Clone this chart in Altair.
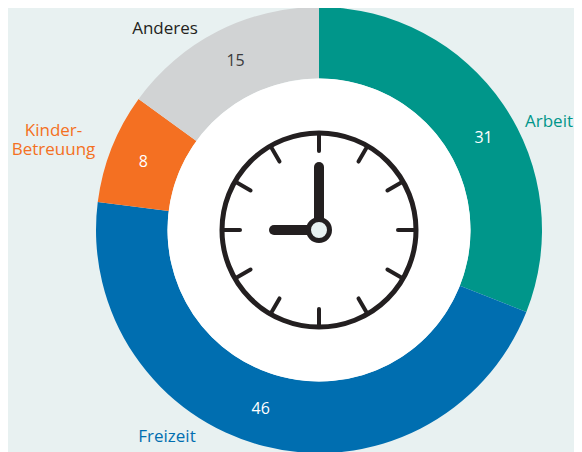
import math
import altair as alt
import pandas as pd

# --- values ---
categories = ["Arbeit", "Freizeit", "Kinder-Betreuung", "Anderes"]
values = [31, 46, 8, 15]
colors = ["#00968a", "#006eb0", "#f47022", "#d1d3d4"]
value_text_colors = ["#ffffff", "#ffffff", "#ffffff", "#3a3a3c"]
name_lines = [["Arbeit"], ["Freizeit"], ["Kinder-", "Betreuung"], ["Anderes"]]
name_colors = ["#00968a", "#006eb0", "#f47022", "#231f20"]

# --- layout ---
W, H = 566, 444
CX, CY = 311, 222
INK = "#231f20"
BG = "#e8f1f1"
label_shift = [1.4, 1.0, -0.1, 0.2]          # percent along the ring
name_dx = [230, -152, -265.5, -154]
name_dy = [-108.5, 207, -99, -201]

rows, acc = [], 0
for c, v in zip(categories, values):
    rows.append(dict(cat=c, value=v, start=acc, end=acc + v))
    acc += v
df = pd.DataFrame(rows)
df["txt"] = df["value"].astype(str)
df["mid"] = (df["start"] + df["end"]) / 2 + pd.Series(label_shift)
df["txtcolor"] = value_text_colors

theta_scale = alt.Scale(domain=[0, 100], range=[0, 2 * math.pi])
x_scale = alt.Scale(domain=[-CX, W - CX], range=[0, W])
y_scale = alt.Scale(domain=[-CY, H - CY], range=[0, H])
X = lambda f: alt.X(f, type="quantitative", scale=x_scale, axis=None)
Y = lambda f: alt.Y(f, type="quantitative", scale=y_scale, axis=None)

arcs = alt.Chart(df).mark_arc(outerRadius=223, innerRadius=151.5, stroke=None).encode(
    theta=alt.Theta("start:Q", scale=theta_scale),
    theta2="end:Q",
    color=alt.Color("cat:N", scale=alt.Scale(domain=categories, range=colors), legend=None),
    x=alt.value(CX), y=alt.value(CY),
)

value_labels = alt.Chart(df).mark_text(
    radius=188.5, font="Open Sans", fontSize=16, align="center", baseline="middle"
).encode(
    theta=alt.Theta("mid:Q", scale=theta_scale),
    text="txt:N",
    color=alt.Color("txtcolor:N", scale=None),
    x=alt.value(CX), y=alt.value(CY),
)

name_df = pd.DataFrame(dict(
    lines=name_lines, col=name_colors, x=name_dx, y=name_dy
))
names = alt.Chart(name_df).mark_text(
    font="Open Sans", fontSize=17, fontWeight=500, align="center", baseline="middle", lineHeight=19
).encode(x=X("x"), y=Y("y"), text="lines:N", color=alt.Color("col:N", scale=None))

# clock face
origin = pd.DataFrame(dict(x=[0], y=[0]))
hole = alt.Chart(origin).mark_point(
    shape="circle", size=303**2, filled=True, fill="#ffffff", stroke=None, opacity=1
).encode(x=X("x"), y=Y("y"))

hours = list(range(12))
tick_df = pd.DataFrame(dict(hour=hours))
tick_df["a"] = tick_df["hour"] * math.pi / 6
tick_df["x"] = 97 * tick_df["a"].map(math.sin)
tick_df["y"] = -97 * tick_df["a"].map(math.cos)
tick_df["x2"] = 79 * tick_df["a"].map(math.sin)
tick_df["y2"] = -79 * tick_df["a"].map(math.cos)

ticks = alt.Chart(tick_df).mark_rule(color=INK, strokeWidth=4, strokeCap="round").encode(
    x=X("x"), y=Y("y"), x2="x2:Q", y2="y2:Q"
)
ring = alt.Chart(origin).mark_point(
    shape="circle", size=194**2, filled=False, stroke=INK, strokeWidth=5, opacity=1
).encode(x=X("x"), y=Y("y"))

hands_df = pd.DataFrame(dict(x=[0, 0], y=[0, 0], x2=[0, -45], y2=[-63, 0]))
hands = alt.Chart(hands_df).mark_rule(color=INK, strokeWidth=10, strokeCap="round").encode(
    x=X("x"), y=Y("y"), x2="x2:Q", y2="y2:Q"
)
hub = alt.Chart(origin).mark_point(
    shape="circle", size=21**2, filled=True, fill=BG, stroke=INK, strokeWidth=5, opacity=1
).encode(x=X("x"), y=Y("y"))

chart = alt.layer(arcs, hole, value_labels, names, ring, ticks, hands, hub).properties(
    width=W, height=H, background=BG, padding=0,
    autosize=alt.AutoSizeParams(type="none"),
).configure_view(stroke=None)

chart.save("out.html", embed_options={"renderer": "svg", "actions": False})
